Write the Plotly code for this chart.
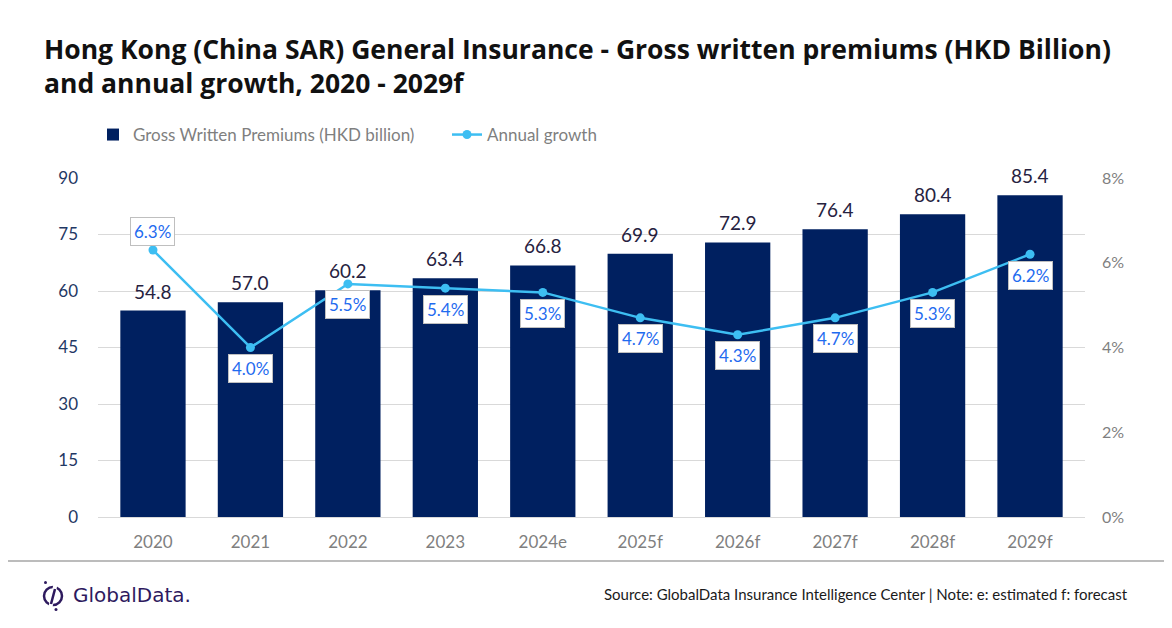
import plotly.graph_objects as go

years = ["2020", "2021", "2022", "2023", "2024e", "2025f", "2026f", "2027f", "2028f", "2029f"]
premiums = [54.8, 57.0, 60.2, 63.4, 66.8, 69.9, 72.9, 76.4, 80.4, 85.4]
growth = [6.3, 4.0, 5.5, 5.4, 5.3, 4.7, 4.3, 4.7, 5.3, 6.2]
growth_label_above = [True, False, False, False, False, False, False, False, False, False]

# page body adds an 8px margin, so the figure is 8px smaller than the window
W, H = 1164, 620
ML, MR, MT, MB = 90, 87, 170, 111
PW = W - ML - MR
PH = H - MT - MB


def px_x(x):
    return (x - ML) / PW


def px_y(y):
    return (H - MB - y) / PH


BAR = "#002060"
LINE = "#3DBEF2"
BODY_FONT = "Lato"

fig = go.Figure()
fig.add_trace(go.Bar(
    x=years, y=premiums, name="Gross Written Premiums (HKD billion)",
    marker=dict(color=BAR, line=dict(width=0)), yaxis="y",
))
fig.add_trace(go.Scatter(
    x=years, y=growth, name="Annual growth", yaxis="y2", mode="lines+markers",
    line=dict(color=LINE, width=2.5), marker=dict(color=LINE, size=9),
))

annotations = []
for i, v in enumerate(premiums):
    annotations.append(dict(
        x=i, y=v, xref="x", yref="y", text=f"{v:.1f}", showarrow=False,
        yanchor="bottom", yshift=6,
        font=dict(family=BODY_FONT, size=19, color="#26223f"),
    ))
for i, (g, above) in enumerate(zip(growth, growth_label_above)):
    annotations.append(dict(
        x=i, y=g, xref="x", yref="y2", text=f"{g:.1f}%", showarrow=False,
        yanchor="middle", yshift=19 if above else -21,
        font=dict(family=BODY_FONT, size=17, color="#1F6BEF"),
        bgcolor="white", bordercolor="#BFBFBF", borderwidth=1, borderpad=3,
    ))

# title
annotations.append(dict(
    xref="paper", yref="paper", x=px_x(34), y=px_y(21), xanchor="left", yanchor="top", align="left",
    text="<b>Hong Kong (China SAR) General Insurance - Gross written premiums (HKD Billion)<br>and annual growth, 2020 - 2029f</b>",
    showarrow=False, font=dict(family="Open Sans", size=26.5, color="#111111"),
))

# footer
annotations.append(dict(
    xref="paper", yref="paper", x=px_x(1122), y=px_y(586), xanchor="right", yanchor="middle",
    text="Source: GlobalData Insurance Intelligence Center | Note: e: estimated f: forecast",
    showarrow=False, font=dict(family=BODY_FONT, size=15, color="#1a1a1a"),
))
annotations.append(dict(
    xref="paper", yref="paper", x=px_x(63), y=px_y(587), xanchor="left", yanchor="middle",
    text="GlobalData.", showarrow=False,
    font=dict(family="DejaVu Sans", size=20, color="#2E1A5E"),
))

shapes = [
    dict(type="line", xref="paper", yref="paper", x0=px_x(0), x1=px_x(W), y0=px_y(553), y1=px_y(553),
         line=dict(color="#A6A6A6", width=1.5)),
    dict(type="circle", xref="paper", yref="paper", x0=px_x(36), x1=px_x(54), y0=px_y(597), y1=px_y(579),
         line=dict(color="#2E1A5E", width=2.5)),
    dict(type="line", xref="paper", yref="paper", x0=px_x(42), x1=px_x(48), y0=px_y(601), y1=px_y(574),
         line=dict(color="white", width=4)),
    dict(type="line", xref="paper", yref="paper", x0=px_x(43), x1=px_x(47), y0=px_y(596), y1=px_y(581),
         line=dict(color="#2E1A5E", width=2.5)),
    dict(type="circle", xref="paper", yref="paper", x0=px_x(36), x1=px_x(39), y0=px_y(576), y1=px_y(573),
         fillcolor="#2E1A5E", line=dict(width=0)),
    dict(type="circle", xref="paper", yref="paper", x0=px_x(46.5), x1=px_x(49.5), y0=px_y(603), y1=px_y(600),
         fillcolor="#2E1A5E", line=dict(width=0)),
]

fig.update_layout(
    width=W, height=H,
    margin=dict(l=ML, r=MR, t=MT, b=MB, autoexpand=False),
    paper_bgcolor="white", plot_bgcolor="white",
    bargap=0.33,
    font=dict(family=BODY_FONT),
    showlegend=True,
    legend=dict(
        orientation="h", x=px_x(85), y=px_y(127), xanchor="left", yanchor="middle",
        font=dict(family=BODY_FONT, size=17, color="#7F7F7F"),
        bgcolor="rgba(0,0,0,0)", entrywidth=309, entrywidthmode="pixels", itemwidth=30,
    ),
    xaxis=dict(
        type="category", showgrid=False, showline=True, linecolor="#D9D9D9", linewidth=1,
        ticks="", tickfont=dict(family=BODY_FONT, size=17, color="#7F7F7F"), ticklabelstandoff=10,
    ),
    yaxis=dict(
        range=[0, 90], tickvals=[0, 15, 30, 45, 60, 75, 90], showgrid=True, gridcolor="#D9D9D9",
        gridwidth=1, zeroline=False, showline=False, ticks="",
        tickfont=dict(family=BODY_FONT, size=17, color="#1F3864"), ticklabelstandoff=19,
    ),
    yaxis2=dict(
        overlaying="y", side="right", range=[0, 8], tickvals=[0, 2, 4, 6, 8],
        ticktext=["0%", "2%", "4%", "6%", "8%"], showgrid=False, zeroline=False, ticks="",
        tickfont=dict(family=BODY_FONT, size=16, color="#7F7F7F"), ticklabelstandoff=16,
    ),
    annotations=annotations,
    shapes=shapes,
)

fig.write_html("out.html")
